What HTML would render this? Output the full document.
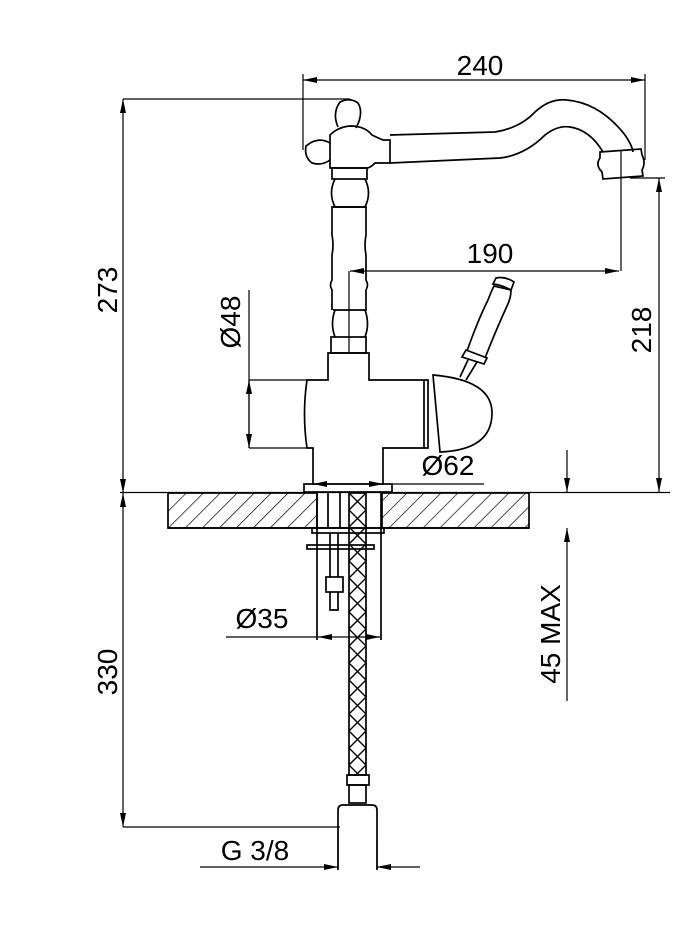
<!DOCTYPE html>
<html><head><meta charset="utf-8"><style>
html,body{margin:0;padding:0;background:#fff}
svg{display:block}
text{font-family:"Liberation Sans",sans-serif;font-size:28px;fill:#000}
</style></head><body>
<svg width="684" height="941" viewBox="0 0 684 941" xmlns="http://www.w3.org/2000/svg">
<defs>
<pattern id="hatch" patternUnits="userSpaceOnUse" width="12" height="12" patternTransform="rotate(45)">
<line x1="0" y1="0" x2="0" y2="12" stroke="#000" stroke-width="1.4"/>
</pattern>
<pattern id="mesh" patternUnits="userSpaceOnUse" width="17" height="17" x="349" y="493">
<path d="M0 0L17 17M17 0L0 17" stroke="#000" stroke-width="1.4" fill="none"/>
</pattern>
<marker id="a" viewBox="0 0 14 6" refX="14" refY="3" markerWidth="14" markerHeight="6" markerUnits="userSpaceOnUse" orient="auto-start-reverse">
<path d="M0 0L14 3L0 6z" fill="#000"/>
</marker>
</defs>
<g fill="none" stroke="#000" stroke-width="1.7">
<!-- countertop -->
<rect x="168" y="493" width="149" height="35" fill="url(#hatch)"/>
<rect x="382" y="493" width="147" height="35" fill="url(#hatch)"/>
<line x1="168" y1="528" x2="529" y2="528"/>
<line x1="120" y1="492.5" x2="670" y2="492.5" stroke-width="1.2"/>
<!-- hole internals -->
<line x1="317" y1="493" x2="317" y2="640"/>
<line x1="381" y1="493" x2="381" y2="640"/>
<line x1="328" y1="493" x2="328" y2="528"/>
<line x1="340" y1="493" x2="340" y2="528"/>
<rect x="312" y="528" width="72" height="5"/>
<rect x="307" y="545" width="67" height="4"/>
<path d="M330 533V577M338 533V577"/>
<rect x="326" y="577" width="17" height="15"/>
<path d="M330 592V610H338V592"/>
<!-- hose -->
<rect x="349" y="493" width="17" height="282" fill="url(#mesh)"/>
<rect x="347" y="775" width="22" height="10"/>
<rect x="349" y="785" width="17" height="18"/>
<path d="M338 870V810Q338 805 343 805H372Q377 805 377 810V870"/>
<!-- faucet body -->
<path d="M313 485V448H307Q302 414 307 380H328V353H369V380H428V448H383V485"/>
<rect x="304" y="484" width="88" height="8"/>
<line x1="424" y1="380" x2="424" y2="448"/>
<path d="M433 375Q492 380 492 413Q492 450 440 452Z"/>
<!-- lever -->
<path d="M460 377L468 360M466 380L477 362"/>
<path d="M462 357L466 350L487 358L484 364Z"/>
<path d="M467 351Q478 320 488 300Q491 292 494 286L511 290Q511 298 507 306Q496 330 485 358"/>
<path d="M493 284L496 278Q505 276 514 282L511 290Q502 285 493 284Z"/>
<!-- column -->
<rect x="331" y="337" width="35" height="16"/>
<path d="M335 337Q330 324 335 310M365 310Q370 324 365 337"/>
<line x1="333" y1="310" x2="367" y2="310"/>
<path d="M332 310V290Q329 285 332 280V255Q334 245 332 235V207H366V235Q364 245 366 255V280Q369 285 366 290V310"/>
<path d="M335 207Q328 193 335 179M365 179Q372 193 365 207"/>
<line x1="333" y1="207" x2="367" y2="207"/>
<rect x="332" y="168" width="35" height="11"/>
<!-- valve head -->
<path d="M330 168V135Q338 127 350 126Q365 126 372 135Q378 138 383 140H390V163H375Q370 168 367 168Z"/>
<path d="M338 127Q332 113 340 102Q350 97 358 103Q364 113 356 128"/>
<path d="M330 143Q318 136 306 146Q304 157 312 163Q322 166 330 160"/>
<!-- spout -->
<path d="M390 135L495 132Q520 128 535 112Q550 98 567 100Q600 103 625 135Q632 145 633 152"/>
<path d="M390 163L500 158Q525 155 545 135Q558 125 570 127Q590 130 603 152"/>
<path d="M600 152L641 149L642 155Q646 163 642 170L643 176L603 179L602 172Q595 165 600 158Z"/>
<line x1="621" y1="150" x2="621" y2="271" stroke-width="1.2"/>
<!-- dimension lines -->
<g stroke-width="1.2">
<line x1="123" y1="99" x2="350" y2="99"/>
<line x1="123" y1="99" x2="123" y2="493" marker-start="url(#a)" marker-end="url(#a)"/>
<line x1="123" y1="493" x2="123" y2="827" marker-start="url(#a)" marker-end="url(#a)"/>
<line x1="123" y1="827" x2="340" y2="827"/>
<line x1="303" y1="80" x2="645" y2="80" marker-start="url(#a)" marker-end="url(#a)"/>
<line x1="303" y1="74" x2="303" y2="150"/>
<line x1="645" y1="74" x2="645" y2="160"/>
<line x1="350" y1="271" x2="619" y2="271" marker-start="url(#a)" marker-end="url(#a)"/>
<line x1="349" y1="271" x2="349" y2="353"/>
<line x1="630" y1="178" x2="665" y2="178"/>
<line x1="659" y1="178" x2="659" y2="492" marker-start="url(#a)" marker-end="url(#a)"/>
<line x1="249" y1="290" x2="249" y2="448"/>
<line x1="249" y1="380" x2="249" y2="448" marker-start="url(#a)" marker-end="url(#a)"/>
<line x1="249" y1="380" x2="307" y2="380"/>
<line x1="249" y1="448" x2="307" y2="448"/>
<line x1="313" y1="484" x2="383" y2="484" marker-start="url(#a)" marker-end="url(#a)"/>
<line x1="392" y1="484" x2="484" y2="484"/>
<line x1="567" y1="450" x2="567" y2="492" marker-end="url(#a)"/>
<line x1="567" y1="528" x2="567" y2="701" marker-start="url(#a)"/>
<line x1="226" y1="637" x2="317" y2="637"/>
<line x1="318" y1="637" x2="380" y2="637" marker-start="url(#a)" marker-end="url(#a)"/>
<line x1="200" y1="867" x2="338" y2="867" marker-end="url(#a)"/>
<line x1="420" y1="867" x2="377" y2="867" marker-end="url(#a)"/>
<line x1="338" y1="827" x2="338" y2="870"/>
<line x1="377" y1="840" x2="377" y2="870"/>
</g>
</g>
<text x="480" y="75" text-anchor="middle">240</text>
<text x="490" y="263" text-anchor="middle">190</text>
<text x="448" y="475" text-anchor="middle">Ø62</text>
<text x="262" y="628" text-anchor="middle">Ø35</text>
<text x="255" y="860" text-anchor="middle">G 3/8</text>
<text transform="translate(117,290) rotate(-90)" text-anchor="middle">273</text>
<text transform="translate(240,322) rotate(-90)" text-anchor="middle">Ø48</text>
<text transform="translate(651,330) rotate(-90)" text-anchor="middle">218</text>
<text transform="translate(117,672) rotate(-90)" text-anchor="middle">330</text>
<text transform="translate(560,634) rotate(-90)" text-anchor="middle">45 MAX</text>
</svg>
</body></html>
